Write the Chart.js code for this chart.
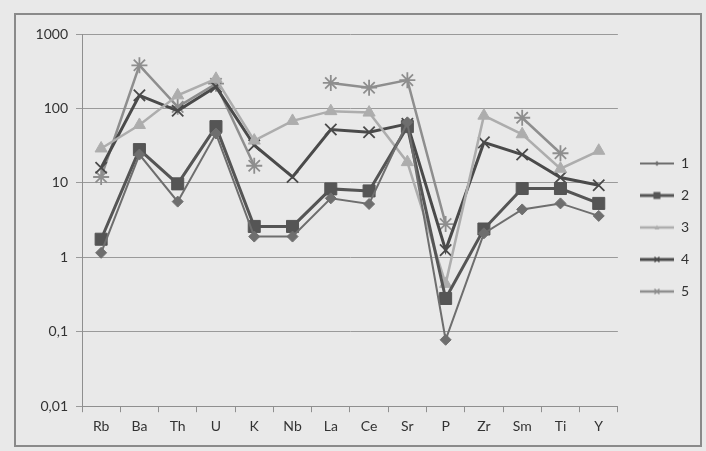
<!DOCTYPE html>
<html>
<head>
<meta charset="utf-8">
<script src="https://cdn.jsdelivr.net/npm/chart.js@4/dist/chart.umd.min.js"></script>
<style>
  html, body { margin: 0; padding: 0; background: #e9e9e9; }
  #wrap { position: relative; width: 706px; height: 451px; }
  #frame { position: absolute; left: 14px; top: 13px; width: 684px; height: 430px; border: 2px solid #8a8a8a; pointer-events: none; }
</style>
</head>
<body>
<div id="wrap">
  <canvas id="grafico" width="706" height="451"></canvas>
  <div id="frame"></div>
</div>
<script>
var elementos = ["Rb", "Ba", "Th", "U", "K", "Nb", "La", "Ce", "Sr", "P", "Zr", "Sm", "Ti", "Y"];
var amostra1 = [1.15, 24, 5.6, 46, 1.9, 1.9, 6.2, 5.2, 65, 0.078, 2.1, 4.4, 5.3, 3.6];
var amostra2 = [1.75, 28, 9.7, 57, 2.6, 2.6, 8.3, 7.8, 57, 0.28, 2.4, 8.4, 8.4, 5.3];
var amostra3 = [29, 60, 150, 250, 37, 68, 92, 88, 19, 0.44, 80, 45, 15.5, 27];
var amostra4 = [16, 150, 93, 195, 32, 12, 52, 48, 62, 1.25, 35, 24, 11.8, 9.3];
var amostra5 = [12, 380, 105, 215, 17, null, 220, 190, 240, 2.8, null, 75, 25, null];
var nomes = ["1", "2", "3", "4", "5"];
var ticksY = [0.01, 0.1, 1, 10, 100, 1000];

// pequena imagem de legenda: linha com marcador no meio
function iconeLegenda(cor, largura, estilo, r) {
    var c = document.createElement("canvas");
    c.width = 34; c.height = 12;
    var g = c.getContext("2d");
    g.strokeStyle = cor; g.fillStyle = cor; g.lineWidth = largura;
    g.beginPath(); g.moveTo(0, 6); g.lineTo(34, 6); g.stroke();
    g.lineWidth = 1.5;
    g.beginPath();
    if (estilo === "rectRot") { g.moveTo(17, 6 - r); g.lineTo(17 + r, 6); g.lineTo(17, 6 + r); g.lineTo(17 - r, 6); g.closePath(); g.fill(); }
    else if (estilo === "rect") { g.fillRect(17 - r - 1, 6 - r - 1, 2 * r + 2, 2 * r + 2); }
    else if (estilo === "triangle") { g.moveTo(17, 6 - r); g.lineTo(17 + r, 6 + r * 0.8); g.lineTo(17 - r, 6 + r * 0.8); g.closePath(); g.fill(); }
    else { g.moveTo(17 - r, 6 - r); g.lineTo(17 + r, 6 + r); g.moveTo(17 + r, 6 - r); g.lineTo(17 - r, 6 + r); g.stroke(); }
    return c;
}

var estilos = [
    { cor: "#6e6e6e", largura: 2, ponto: "rectRot", raio: 5.5 },
    { cor: "#555555", largura: 3, ponto: "rect", raio: 8.5 },
    { cor: "#adadad", largura: 2.5, ponto: "triangle", raio: 7 },
    { cor: "#4a4a4a", largura: 3, ponto: "crossRot", raio: 8 },
    { cor: "#8e8e8e", largura: 2.5, ponto: "star", raio: 8 }
];
var series = [amostra1, amostra2, amostra3, amostra4, amostra5];

var datasets = series.map(function(valores, i) {
    var e = estilos[i];
    return {
        label: nomes[i],
        data: valores,
        borderColor: e.cor,
        backgroundColor: e.cor,
        borderWidth: e.largura,
        pointStyle: e.ponto,
        pointRadius: e.raio,
        pointBorderWidth: (e.ponto === "crossRot" || e.ponto === "star") ? 1.8 : 1,
        spanGaps: false,
        tension: 0
    };
});
var icones = estilos.map(function(e) { return iconeLegenda(e.cor, e.largura, e.ponto, 2.5); });

// desloca a legenda um pouco para cima e para a direita
var ajusteLegenda = {
    id: "ajusteLegenda",
    afterLayout: function(chart) {
        var l = chart.legend;
        l.top -= 10; l.bottom -= 10;
        l.left += 4; l.right += 4;
    }
};

var ctx = document.getElementById("grafico").getContext("2d");
var grafico = new Chart(ctx, {
    type: "line",
    data: { labels: elementos, datasets: datasets },
    plugins: [ajusteLegenda],
    options: {
        responsive: false,
        animation: false,
        layout: { padding: { top: 34, right: 11, bottom: 10, left: 0 } },
        plugins: {
            tooltip: { enabled: false },
            legend: {
                position: "right",
                labels: {
                    usePointStyle: true,
                    pointStyleWidth: 34,
                    padding: 18,
                    color: "#333333",
                    font: { family: "Lato", size: 14 },
                    generateLabels: function(chart) {
                        var itens = Chart.defaults.plugins.legend.labels.generateLabels(chart);
                        itens.forEach(function(it, i) { it.pointStyle = icones[i]; });
                        return itens;
                    }
                }
            }
        },
        scales: {
            x: {
                offset: true,
                grid: { display: true, offset: true, drawOnChartArea: false, tickLength: 6, color: "#8f8f8f" },
                border: { color: "#8f8f8f" },
                ticks: { color: "#333333", font: { family: "Lato", size: 14 }, padding: 6 }
            },
            y: {
                type: "logarithmic",
                min: 0.01,
                max: 1000,
                afterFit: function(scale) { scale.width = 82; },
                afterBuildTicks: function(scale) {
                    scale.ticks = ticksY.map(function(v) { return { value: v }; });
                },
                grid: { color: "#9a9a9a", lineWidth: 1, tickLength: 6 },
                border: { color: "#8f8f8f" },
                ticks: {
                    color: "#333333",
                    font: { family: "Lato", size: 14 },
                    padding: 8,
                    callback: function(v) { return String(v).replace(".", ","); }
                }
            }
        }
    }
});
</script>
</body>
</html>
